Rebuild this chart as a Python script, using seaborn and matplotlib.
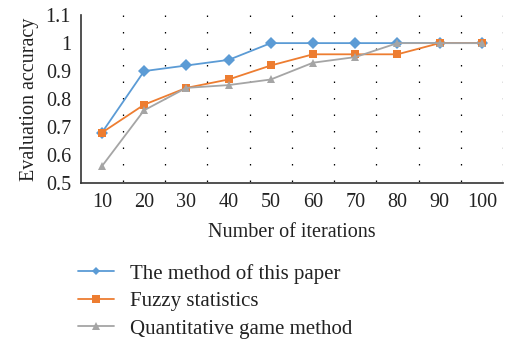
import matplotlib
matplotlib.use("Agg")
import matplotlib.pyplot as plt
import seaborn as sns
import pandas as pd

iterations = ["10", "20", "30", "40", "50", "60", "70", "80", "90", "100"]
paper_method = [0.68, 0.90, 0.92, 0.94, 1.00, 1.00, 1.00, 1.00, 1.00, 1.00]
fuzzy_stats = [0.68, 0.78, 0.84, 0.87, 0.92, 0.96, 0.96, 0.96, 1.00, 1.00]
quant_game = [0.56, 0.76, 0.84, 0.85, 0.87, 0.93, 0.95, 1.00, 1.00, 1.00]
series_names = ["The method of this paper", "Fuzzy statistics", "Quantitative game method"]
y_ticks = [0.5, 0.6, 0.7, 0.8, 0.9, 1.0, 1.1]
y_tick_labels = ["0.5", "0.6", "0.7", "0.8", "0.9", "1", "1.1"]

sns.set_theme(style="white")
plt.rcParams["font.family"] = ["Liberation Serif", "DejaVu Serif"]

df = pd.DataFrame({
    "iter": iterations * 3,
    "acc": paper_method + fuzzy_stats + quant_game,
    "method": [series_names[0]] * 10 + [series_names[1]] * 10 + [series_names[2]] * 10,
})

palette = {series_names[0]: "#5B9BD5", series_names[1]: "#ED7D31", series_names[2]: "#A5A5A5"}
markers = {series_names[0]: "D", series_names[1]: "s", series_names[2]: "^"}
size_map = {series_names[0]: 5.5, series_names[1]: 8, series_names[2]: 7.5}

fig = plt.figure(figsize=(5.05, 3.44), dpi=100)
ax = fig.add_axes([0.160, 0.468, 0.836, 0.488])

# dotted category separators
for b in [i + 0.5 for i in range(10)]:
    ax.plot([b, b], [1.1, 0.5], color="black", lw=0.9,
            linestyle=(0, (1.2, 12.0)), zorder=0)

sns.lineplot(data=df, x="iter", y="acc", hue="method", style="method",
             palette=palette, markers=markers, dashes=False, sort=False,
             ax=ax, linewidth=1.3, markeredgewidth=0)

for line in ax.get_lines():
    lab = line.get_label()
    if lab in size_map:
        line.set_markersize(size_map[lab])

ax.set_xlim(-0.5, 9.5)
ax.set_ylim(0.5, 1.1)
ax.set_yticks(y_ticks)
ax.set_yticklabels(y_tick_labels)
ax.tick_params(axis="both", length=0, labelsize=14.5, colors="#222222", pad=7)
ax.set_xlabel("Number of iterations", fontsize=14.5, color="#222222", labelpad=8)
ax.set_ylabel("Evaluation accuracy", fontsize=14.5, color="#222222", labelpad=5)

for s in ["top", "right"]:
    ax.spines[s].set_visible(False)
for s in ["left", "bottom"]:
    ax.spines[s].set_color("#333333")
    ax.spines[s].set_linewidth(1.2)

handles, labels = ax.get_legend_handles_labels()
for h in handles:
    lab = h.get_label()
    if lab in size_map:
        h.set_markersize(size_map[lab] * 0.7)
ax.legend(handles, labels, loc="upper left", bbox_to_anchor=(-0.052, -0.37),
          frameon=False, fontsize=15, handlelength=1.75, handletextpad=0.75,
          labelspacing=0.38, labelcolor="#222222")

fig.savefig("out.png", dpi=100)
